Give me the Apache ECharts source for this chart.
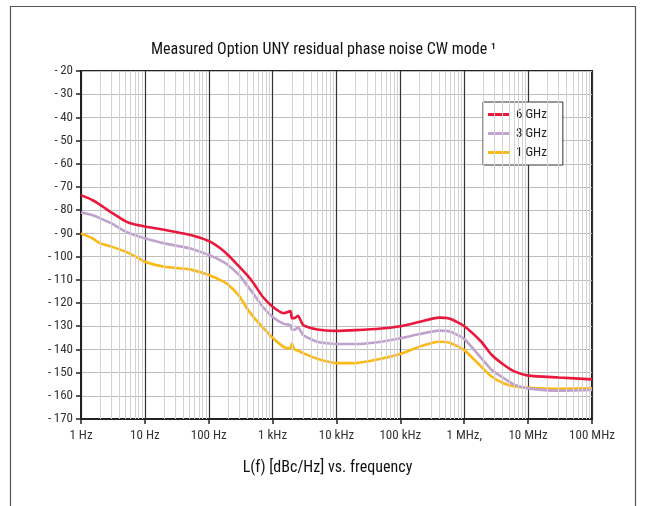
<!DOCTYPE html>
<html>
<head>
<meta charset="utf-8">
<script src="https://cdn.jsdelivr.net/npm/echarts@6/dist/echarts.min.js"></script>
<style>
html,body{margin:0;padding:0;background:#fff;}
#chart{width:647px;height:506px;}
</style>
</head>
<body>
<div id="chart"></div>
<script>
var freqs = [1,1.5,2,3,5,7,10,20,50,100,150,200,300,400,500,700,1000,1500,1900,2000,2200,2500,3000,5000,1e4,2e4,5e4,1e5,2e5,4e5,6e5,1e6,1.85e6,2.7e6,4.2e6,6.2e6,1e7,3e7,1e8];
var ghz6 = [-73.5,-75.6,-77.7,-81,-84.8,-86.2,-87,-88.4,-90.6,-93.3,-96.3,-99.3,-104.3,-108,-111.4,-117.3,-121.6,-124.4,-123.5,-126.5,-126.5,-125.5,-129.5,-131.4,-132,-131.7,-131,-130,-128.1,-126.3,-126.8,-130,-136.7,-142.4,-146.7,-149.6,-151.3,-152.1,-152.9];
var ghz3 = [-81,-82.1,-83.5,-85.7,-89.3,-90.7,-92.1,-94.3,-96.4,-99.3,-101.5,-103.6,-108,-112.5,-116,-121.6,-126,-129,-129.5,-131.5,-131.5,-130.5,-133.8,-136.7,-137.7,-137.7,-136.7,-135.2,-133.4,-131.9,-132.3,-135.5,-143.8,-148.9,-152.5,-155.3,-156.8,-157.8,-157.5];
var ghz1 = [-90,-92.1,-94.3,-95.7,-97.9,-99.8,-102.2,-104.4,-105.5,-107.9,-110,-112,-117,-122.5,-126,-130.5,-135,-139,-139.5,-137.5,-140,-140.5,-141.6,-144,-145.9,-145.9,-144,-142,-138.8,-136.7,-137.2,-140.3,-147.5,-151.8,-154.7,-156,-156.5,-157,-156.8];
var seriesNames = ['6 GHz','3 GHz','1 GHz'];
var xTickLabels = ['1 Hz','10 Hz','100 Hz','1 kHz','10 kHz','100 kHz','1 MHz,','10 MHz','100 MHz'];
var minorMultipliers = [2,3,4,5,6,7,8,9];
var decades = [1,10,100,1e3,1e4,1e5,1e6,1e7];

var FONT = "'Liberation Sans Narrow','Roboto Condensed',Roboto,sans-serif";

function pairs(vals){ return freqs.map(function(f,i){ return [f, vals[i]]; }); }
var minorLines = [];
decades.forEach(function(d){ minorMultipliers.forEach(function(m){ minorLines.push({xAxis: d*m}); }); });

var chart = echarts.init(document.getElementById('chart'), null, {renderer:'canvas'});
chart.setOption({
  animation: false,
  backgroundColor: '#fff',
  graphic: [{
    type: 'rect', shape: {x: 10.5, y: 6.5, width: 625, height: 520},
    style: {fill: 'none', stroke: '#555', lineWidth: 1.2}, silent: true, z: -10
  }],
  title: {
    text: 'Measured Option UNY residual phase noise CW mode \u00B9',
    left: 'center', top: 37,
    textStyle: {fontFamily: FONT, fontSize: 16, fontWeight: 'normal', color: '#111'}
  },
  legend: {
    data: seriesNames,
    orient: 'vertical', left: 483, top: 102,
    icon: 'rect', itemWidth: 22, itemHeight: 3, itemGap: 6,
    backgroundColor: '#fff', borderColor: '#333', borderWidth: 1,
    padding: [6, 16, 6, 5],
    textStyle: {fontFamily: FONT, fontSize: 13, color: '#222', padding: [0, 0, 0, 1]}
  },
  grid: {left: 81, right: 55, top: 71, bottom: 87, show: true, borderColor: '#222', borderWidth: 2, backgroundColor: 'transparent'},
  xAxis: {
    type: 'log', logBase: 10, min: 1, max: 1e8,
    name: 'L(f) [dBc/Hz] vs. frequency', nameLocation: 'middle', nameGap: 41,
    nameTextStyle: {fontFamily: FONT, fontSize: 16, color: '#111', padding: [0, 18, 0, 0]},
    axisLine: {show: true, lineStyle: {color: '#222', width: 2}},
    axisTick: {show: true, length: 5, lineStyle: {color: '#222', width: 1.5}},
    axisLabel: {fontFamily: FONT, fontSize: 13, color: '#333', margin: 10,
      formatter: function(v){ var i = Math.round(Math.log10(v)); return xTickLabels[i] || ''; }},
    splitLine: {show: true, lineStyle: {color: '#333', width: 1.2}},
    minorTick: {show: false}, minorSplitLine: {show: false}
  },
  yAxis: {
    type: 'value', min: -170, max: -20, interval: 10,
    axisLine: {show: true, lineStyle: {color: '#222', width: 2}},
    axisTick: {show: true, length: 5, lineStyle: {color: '#222', width: 1.5}},
    axisLabel: {fontFamily: FONT, fontSize: 13, color: '#333', margin: 8,
      formatter: function(v){ return v < 0 ? '-\u2009' + Math.abs(v) : String(v); }},
    splitLine: {show: true, lineStyle: {color: '#bdbdbd', width: 1}}
  },
  series: [
    {
      name: 'minor', type: 'line', data: [[1,-170]], symbol: 'none', silent: true,
      lineStyle: {opacity: 0}, z: 1,
      markLine: {silent: true, symbol: 'none', label: {show: false},
        lineStyle: {color: '#d2d2d2', width: 1, type: 'solid'}, data: minorLines, animation: false}
    },
    {name: seriesNames[0], type: 'line', data: pairs(ghz6), symbol: 'none', smooth: 0.2, z: 5,
      lineStyle: {color: '#e8193c', width: 2.6}, itemStyle: {color: '#e8193c'}},
    {name: seriesNames[1], type: 'line', data: pairs(ghz3), symbol: 'none', smooth: 0.2, z: 4,
      lineStyle: {color: '#c0a2cf', width: 2.6}, itemStyle: {color: '#c0a2cf'}},
    {name: seriesNames[2], type: 'line', data: pairs(ghz1), symbol: 'none', smooth: 0.2, z: 3,
      lineStyle: {color: '#fdb913', width: 2.6}, itemStyle: {color: '#fdb913'}}
  ]
});
</script>
</body>
</html>
